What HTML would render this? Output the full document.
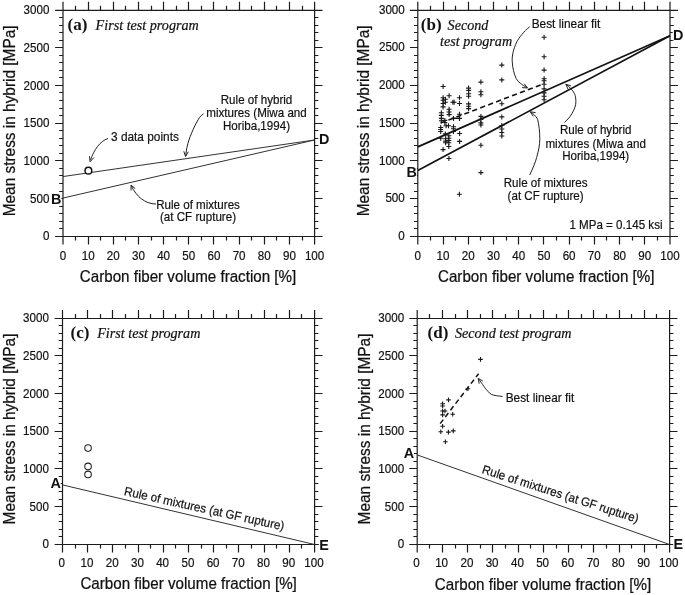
<!DOCTYPE html>
<html><head><meta charset="utf-8"><title>Figure</title>
<style>
html,body{margin:0;padding:0;background:#fff}
svg{display:block}
text{font-family:"Liberation Sans", Arial, sans-serif;fill:#111}
.tk{font-size:12.5px;stroke:#111;stroke-width:0.2px}
.ax{font-size:16.9px;stroke:#111;stroke-width:0.25px}
.axx{font-size:16.7px;stroke:#111;stroke-width:0.25px}
.an{font-size:12.4px;stroke:#111;stroke-width:0.2px}
.an2{font-size:12.9px;stroke:#111;stroke-width:0.2px}
.bd{font-size:14.4px;font-weight:bold;fill:#111}
.lbl{font-family:"Liberation Serif", "Times New Roman", serif;font-weight:bold;font-size:17.0px;fill:#111}
.it{font-family:"Liberation Serif", "Times New Roman", serif;font-style:italic;font-size:14.15px;fill:#111;stroke:#111;stroke-width:0.2px}
</style></head><body>
<svg width="685" height="595" viewBox="0 0 685 595">
<rect width="685" height="595" fill="#fff"/>
<path d="M55.1 10.3H322.5M55.1 236.5H322.5M63.0 1.8000000000000007V244.5M314.6 1.8000000000000007V244.5M75.50 10.3v-4.5M75.50 236.5v4M88.50 10.3v-8.5M88.50 236.5v8M100.50 10.3v-4.5M100.50 236.5v4M113.50 10.3v-8.5M113.50 236.5v8M125.50 10.3v-4.5M125.50 236.5v4M138.50 10.3v-8.5M138.50 236.5v8M151.50 10.3v-4.5M151.50 236.5v4M163.50 10.3v-8.5M163.50 236.5v8M176.50 10.3v-4.5M176.50 236.5v4M188.50 10.3v-8.5M188.50 236.5v8M201.50 10.3v-4.5M201.50 236.5v4M213.50 10.3v-8.5M213.50 236.5v8M226.50 10.3v-4.5M226.50 236.5v4M239.50 10.3v-8.5M239.50 236.5v8M251.50 10.3v-4.5M251.50 236.5v4M264.50 10.3v-8.5M264.50 236.5v8M276.50 10.3v-4.5M276.50 236.5v4M289.50 10.3v-8.5M289.50 236.5v8M302.50 10.3v-4.5M302.50 236.5v4M63.0 228.50h-3.8M314.6 228.50h3.8M63.0 221.50h-3.8M314.6 221.50h3.8M63.0 213.50h-3.8M314.6 213.50h3.8M63.0 206.50h-3.8M314.6 206.50h3.8M63.0 198.50h-7.9M314.6 198.50h7.9M63.0 191.50h-3.8M314.6 191.50h3.8M63.0 183.50h-3.8M314.6 183.50h3.8M63.0 175.50h-3.8M314.6 175.50h3.8M63.0 168.50h-3.8M314.6 168.50h3.8M63.0 160.50h-7.9M314.6 160.50h7.9M63.0 153.50h-3.8M314.6 153.50h3.8M63.0 145.50h-3.8M314.6 145.50h3.8M63.0 138.50h-3.8M314.6 138.50h3.8M63.0 130.50h-3.8M314.6 130.50h3.8M63.0 123.50h-7.9M314.6 123.50h7.9M63.0 115.50h-3.8M314.6 115.50h3.8M63.0 108.50h-3.8M314.6 108.50h3.8M63.0 100.50h-3.8M314.6 100.50h3.8M63.0 92.50h-3.8M314.6 92.50h3.8M63.0 85.50h-7.9M314.6 85.50h7.9M63.0 77.50h-3.8M314.6 77.50h3.8M63.0 70.50h-3.8M314.6 70.50h3.8M63.0 62.50h-3.8M314.6 62.50h3.8M63.0 55.50h-3.8M314.6 55.50h3.8M63.0 47.50h-7.9M314.6 47.50h7.9M63.0 40.50h-3.8M314.6 40.50h3.8M63.0 32.50h-3.8M314.6 32.50h3.8M63.0 25.50h-3.8M314.6 25.50h3.8M63.0 17.50h-3.8M314.6 17.50h3.8" stroke="#1c1c1c" stroke-width="1.2" fill="none"/>
<text transform="translate(63.0 260.2) scale(0.93 1)" class="tk" text-anchor="middle">0</text>
<text transform="translate(88.2 260.2) scale(0.93 1)" class="tk" text-anchor="middle">10</text>
<text transform="translate(113.3 260.2) scale(0.93 1)" class="tk" text-anchor="middle">20</text>
<text transform="translate(138.5 260.2) scale(0.93 1)" class="tk" text-anchor="middle">30</text>
<text transform="translate(163.6 260.2) scale(0.93 1)" class="tk" text-anchor="middle">40</text>
<text transform="translate(188.8 260.2) scale(0.93 1)" class="tk" text-anchor="middle">50</text>
<text transform="translate(214.0 260.2) scale(0.93 1)" class="tk" text-anchor="middle">60</text>
<text transform="translate(239.1 260.2) scale(0.93 1)" class="tk" text-anchor="middle">70</text>
<text transform="translate(264.3 260.2) scale(0.93 1)" class="tk" text-anchor="middle">80</text>
<text transform="translate(289.4 260.2) scale(0.93 1)" class="tk" text-anchor="middle">90</text>
<text transform="translate(314.6 260.2) scale(0.93 1)" class="tk" text-anchor="middle">100</text>
<text transform="translate(49.4 240.3) scale(0.93 1)" class="tk" text-anchor="end">0</text>
<text transform="translate(49.4 202.6) scale(0.93 1)" class="tk" text-anchor="end">500</text>
<text transform="translate(49.4 164.9) scale(0.93 1)" class="tk" text-anchor="end">1000</text>
<text transform="translate(49.4 127.2) scale(0.93 1)" class="tk" text-anchor="end">1500</text>
<text transform="translate(49.4 89.5) scale(0.93 1)" class="tk" text-anchor="end">2000</text>
<text transform="translate(49.4 51.8) scale(0.93 1)" class="tk" text-anchor="end">2500</text>
<text transform="translate(49.4 14.1) scale(0.93 1)" class="tk" text-anchor="end">3000</text>
<text transform="translate(188.0 281.8) scale(0.908 1)" class="axx" text-anchor="middle">Carbon fiber volume fraction [%]</text>
<text transform="translate(15.0 120.9) rotate(-90) scale(0.912 1)" class="ax" text-anchor="middle">Mean stress in hybrid [MPa]</text>
<path d="M409.90000000000003 10.3H677.9M409.90000000000003 236.5H677.9M417.8 1.8000000000000007V244.5M670.0 1.8000000000000007V244.5M430.50 10.3v-4.5M430.50 236.5v4M443.50 10.3v-8.5M443.50 236.5v8M455.50 10.3v-4.5M455.50 236.5v4M468.50 10.3v-8.5M468.50 236.5v8M480.50 10.3v-4.5M480.50 236.5v4M493.50 10.3v-8.5M493.50 236.5v8M506.50 10.3v-4.5M506.50 236.5v4M518.50 10.3v-8.5M518.50 236.5v8M531.50 10.3v-4.5M531.50 236.5v4M543.50 10.3v-8.5M543.50 236.5v8M556.50 10.3v-4.5M556.50 236.5v4M569.50 10.3v-8.5M569.50 236.5v8M581.50 10.3v-4.5M581.50 236.5v4M594.50 10.3v-8.5M594.50 236.5v8M606.50 10.3v-4.5M606.50 236.5v4M619.50 10.3v-8.5M619.50 236.5v8M632.50 10.3v-4.5M632.50 236.5v4M644.50 10.3v-8.5M644.50 236.5v8M657.50 10.3v-4.5M657.50 236.5v4M417.8 228.50h-3.8M670.0 228.50h3.8M417.8 221.50h-3.8M670.0 221.50h3.8M417.8 213.50h-3.8M670.0 213.50h3.8M417.8 206.50h-3.8M670.0 206.50h3.8M417.8 198.50h-7.9M670.0 198.50h7.9M417.8 191.50h-3.8M670.0 191.50h3.8M417.8 183.50h-3.8M670.0 183.50h3.8M417.8 175.50h-3.8M670.0 175.50h3.8M417.8 168.50h-3.8M670.0 168.50h3.8M417.8 160.50h-7.9M670.0 160.50h7.9M417.8 153.50h-3.8M670.0 153.50h3.8M417.8 145.50h-3.8M670.0 145.50h3.8M417.8 138.50h-3.8M670.0 138.50h3.8M417.8 130.50h-3.8M670.0 130.50h3.8M417.8 123.50h-7.9M670.0 123.50h7.9M417.8 115.50h-3.8M670.0 115.50h3.8M417.8 108.50h-3.8M670.0 108.50h3.8M417.8 100.50h-3.8M670.0 100.50h3.8M417.8 92.50h-3.8M670.0 92.50h3.8M417.8 85.50h-7.9M670.0 85.50h7.9M417.8 77.50h-3.8M670.0 77.50h3.8M417.8 70.50h-3.8M670.0 70.50h3.8M417.8 62.50h-3.8M670.0 62.50h3.8M417.8 55.50h-3.8M670.0 55.50h3.8M417.8 47.50h-7.9M670.0 47.50h7.9M417.8 40.50h-3.8M670.0 40.50h3.8M417.8 32.50h-3.8M670.0 32.50h3.8M417.8 25.50h-3.8M670.0 25.50h3.8M417.8 17.50h-3.8M670.0 17.50h3.8" stroke="#1c1c1c" stroke-width="1.2" fill="none"/>
<text transform="translate(417.8 260.2) scale(0.93 1)" class="tk" text-anchor="middle">0</text>
<text transform="translate(443.0 260.2) scale(0.93 1)" class="tk" text-anchor="middle">10</text>
<text transform="translate(468.2 260.2) scale(0.93 1)" class="tk" text-anchor="middle">20</text>
<text transform="translate(493.5 260.2) scale(0.93 1)" class="tk" text-anchor="middle">30</text>
<text transform="translate(518.7 260.2) scale(0.93 1)" class="tk" text-anchor="middle">40</text>
<text transform="translate(543.9 260.2) scale(0.93 1)" class="tk" text-anchor="middle">50</text>
<text transform="translate(569.1 260.2) scale(0.93 1)" class="tk" text-anchor="middle">60</text>
<text transform="translate(594.3 260.2) scale(0.93 1)" class="tk" text-anchor="middle">70</text>
<text transform="translate(619.6 260.2) scale(0.93 1)" class="tk" text-anchor="middle">80</text>
<text transform="translate(644.8 260.2) scale(0.93 1)" class="tk" text-anchor="middle">90</text>
<text transform="translate(670.0 260.2) scale(0.93 1)" class="tk" text-anchor="middle">100</text>
<text transform="translate(404.8 239.9) scale(0.93 1)" class="tk" text-anchor="end">0</text>
<text transform="translate(404.8 202.2) scale(0.93 1)" class="tk" text-anchor="end">500</text>
<text transform="translate(404.8 164.5) scale(0.93 1)" class="tk" text-anchor="end">1000</text>
<text transform="translate(404.8 126.8) scale(0.93 1)" class="tk" text-anchor="end">1500</text>
<text transform="translate(404.8 89.1) scale(0.93 1)" class="tk" text-anchor="end">2000</text>
<text transform="translate(404.8 51.4) scale(0.93 1)" class="tk" text-anchor="end">2500</text>
<text transform="translate(404.8 13.7) scale(0.93 1)" class="tk" text-anchor="end">3000</text>
<text transform="translate(546.2 281.6) scale(0.908 1)" class="axx" text-anchor="middle">Carbon fiber volume fraction [%]</text>
<text transform="translate(368.8 120.9) rotate(-90) scale(0.912 1)" class="ax" text-anchor="middle">Mean stress in hybrid [MPa]</text>
<path d="M54.6 318.5H322.5M54.6 544.5H322.5M62.5 310.0V552.5M314.6 310.0V552.5M75.50 318.5v-4.5M75.50 544.5v4M87.50 318.5v-8.5M87.50 544.5v8M100.50 318.5v-4.5M100.50 544.5v4M112.50 318.5v-8.5M112.50 544.5v8M125.50 318.5v-4.5M125.50 544.5v4M138.50 318.5v-8.5M138.50 544.5v8M150.50 318.5v-4.5M150.50 544.5v4M163.50 318.5v-8.5M163.50 544.5v8M175.50 318.5v-4.5M175.50 544.5v4M188.50 318.5v-8.5M188.50 544.5v8M201.50 318.5v-4.5M201.50 544.5v4M213.50 318.5v-8.5M213.50 544.5v8M226.50 318.5v-4.5M226.50 544.5v4M238.50 318.5v-8.5M238.50 544.5v8M251.50 318.5v-4.5M251.50 544.5v4M264.50 318.5v-8.5M264.50 544.5v8M276.50 318.5v-4.5M276.50 544.5v4M289.50 318.5v-8.5M289.50 544.5v8M301.50 318.5v-4.5M301.50 544.5v4M62.5 536.50h-3.8M314.6 536.50h3.8M62.5 529.50h-3.8M314.6 529.50h3.8M62.5 521.50h-3.8M314.6 521.50h3.8M62.5 514.50h-3.8M314.6 514.50h3.8M62.5 506.50h-7.9M314.6 506.50h7.9M62.5 499.50h-3.8M314.6 499.50h3.8M62.5 491.50h-3.8M314.6 491.50h3.8M62.5 483.50h-3.8M314.6 483.50h3.8M62.5 476.50h-3.8M314.6 476.50h3.8M62.5 468.50h-7.9M314.6 468.50h7.9M62.5 461.50h-3.8M314.6 461.50h3.8M62.5 453.50h-3.8M314.6 453.50h3.8M62.5 446.50h-3.8M314.6 446.50h3.8M62.5 438.50h-3.8M314.6 438.50h3.8M62.5 431.50h-7.9M314.6 431.50h7.9M62.5 423.50h-3.8M314.6 423.50h3.8M62.5 416.50h-3.8M314.6 416.50h3.8M62.5 408.50h-3.8M314.6 408.50h3.8M62.5 401.50h-3.8M314.6 401.50h3.8M62.5 393.50h-7.9M314.6 393.50h7.9M62.5 386.50h-3.8M314.6 386.50h3.8M62.5 378.50h-3.8M314.6 378.50h3.8M62.5 370.50h-3.8M314.6 370.50h3.8M62.5 363.50h-3.8M314.6 363.50h3.8M62.5 355.50h-7.9M314.6 355.50h7.9M62.5 348.50h-3.8M314.6 348.50h3.8M62.5 340.50h-3.8M314.6 340.50h3.8M62.5 333.50h-3.8M314.6 333.50h3.8M62.5 325.50h-3.8M314.6 325.50h3.8" stroke="#1c1c1c" stroke-width="1.2" fill="none"/>
<text transform="translate(61.8 566.9) scale(0.93 1)" class="tk" text-anchor="middle">0</text>
<text transform="translate(87.0 566.9) scale(0.93 1)" class="tk" text-anchor="middle">10</text>
<text transform="translate(112.2 566.9) scale(0.93 1)" class="tk" text-anchor="middle">20</text>
<text transform="translate(137.4 566.9) scale(0.93 1)" class="tk" text-anchor="middle">30</text>
<text transform="translate(162.6 566.9) scale(0.93 1)" class="tk" text-anchor="middle">40</text>
<text transform="translate(187.9 566.9) scale(0.93 1)" class="tk" text-anchor="middle">50</text>
<text transform="translate(213.1 566.9) scale(0.93 1)" class="tk" text-anchor="middle">60</text>
<text transform="translate(238.3 566.9) scale(0.93 1)" class="tk" text-anchor="middle">70</text>
<text transform="translate(263.5 566.9) scale(0.93 1)" class="tk" text-anchor="middle">80</text>
<text transform="translate(288.7 566.9) scale(0.93 1)" class="tk" text-anchor="middle">90</text>
<text transform="translate(313.9 566.9) scale(0.93 1)" class="tk" text-anchor="middle">100</text>
<text transform="translate(48.9 548.3) scale(0.93 1)" class="tk" text-anchor="end">0</text>
<text transform="translate(48.9 510.6) scale(0.93 1)" class="tk" text-anchor="end">500</text>
<text transform="translate(48.9 473.0) scale(0.93 1)" class="tk" text-anchor="end">1000</text>
<text transform="translate(48.9 435.3) scale(0.93 1)" class="tk" text-anchor="end">1500</text>
<text transform="translate(48.9 397.6) scale(0.93 1)" class="tk" text-anchor="end">2000</text>
<text transform="translate(48.9 360.0) scale(0.93 1)" class="tk" text-anchor="end">2500</text>
<text transform="translate(48.9 322.3) scale(0.93 1)" class="tk" text-anchor="end">3000</text>
<text transform="translate(188.6 589.3) scale(0.908 1)" class="axx" text-anchor="middle">Carbon fiber volume fraction [%]</text>
<text transform="translate(14.5 429.0) rotate(-90) scale(0.912 1)" class="ax" text-anchor="middle">Mean stress in hybrid [MPa]</text>
<path d="M409.3 318.5H677.5M409.3 544.5H677.5M417.2 310.0V552.5M669.6 310.0V552.5M429.50 318.5v-4.5M429.50 544.5v4M442.50 318.5v-8.5M442.50 544.5v8M455.50 318.5v-4.5M455.50 544.5v4M467.50 318.5v-8.5M467.50 544.5v8M480.50 318.5v-4.5M480.50 544.5v4M492.50 318.5v-8.5M492.50 544.5v8M505.50 318.5v-4.5M505.50 544.5v4M518.50 318.5v-8.5M518.50 544.5v8M530.50 318.5v-4.5M530.50 544.5v4M543.50 318.5v-8.5M543.50 544.5v8M556.50 318.5v-4.5M556.50 544.5v4M568.50 318.5v-8.5M568.50 544.5v8M581.50 318.5v-4.5M581.50 544.5v4M593.50 318.5v-8.5M593.50 544.5v8M606.50 318.5v-4.5M606.50 544.5v4M619.50 318.5v-8.5M619.50 544.5v8M631.50 318.5v-4.5M631.50 544.5v4M644.50 318.5v-8.5M644.50 544.5v8M656.50 318.5v-4.5M656.50 544.5v4M417.2 536.50h-3.8M669.6 536.50h3.8M417.2 529.50h-3.8M669.6 529.50h3.8M417.2 521.50h-3.8M669.6 521.50h3.8M417.2 514.50h-3.8M669.6 514.50h3.8M417.2 506.50h-7.9M669.6 506.50h7.9M417.2 499.50h-3.8M669.6 499.50h3.8M417.2 491.50h-3.8M669.6 491.50h3.8M417.2 483.50h-3.8M669.6 483.50h3.8M417.2 476.50h-3.8M669.6 476.50h3.8M417.2 468.50h-7.9M669.6 468.50h7.9M417.2 461.50h-3.8M669.6 461.50h3.8M417.2 453.50h-3.8M669.6 453.50h3.8M417.2 446.50h-3.8M669.6 446.50h3.8M417.2 438.50h-3.8M669.6 438.50h3.8M417.2 431.50h-7.9M669.6 431.50h7.9M417.2 423.50h-3.8M669.6 423.50h3.8M417.2 416.50h-3.8M669.6 416.50h3.8M417.2 408.50h-3.8M669.6 408.50h3.8M417.2 401.50h-3.8M669.6 401.50h3.8M417.2 393.50h-7.9M669.6 393.50h7.9M417.2 386.50h-3.8M669.6 386.50h3.8M417.2 378.50h-3.8M669.6 378.50h3.8M417.2 370.50h-3.8M669.6 370.50h3.8M417.2 363.50h-3.8M669.6 363.50h3.8M417.2 355.50h-7.9M669.6 355.50h7.9M417.2 348.50h-3.8M669.6 348.50h3.8M417.2 340.50h-3.8M669.6 340.50h3.8M417.2 333.50h-3.8M669.6 333.50h3.8M417.2 325.50h-3.8M669.6 325.50h3.8" stroke="#1c1c1c" stroke-width="1.2" fill="none"/>
<text transform="translate(416.4 567.0) scale(0.93 1)" class="tk" text-anchor="middle">0</text>
<text transform="translate(441.6 567.0) scale(0.93 1)" class="tk" text-anchor="middle">10</text>
<text transform="translate(466.9 567.0) scale(0.93 1)" class="tk" text-anchor="middle">20</text>
<text transform="translate(492.1 567.0) scale(0.93 1)" class="tk" text-anchor="middle">30</text>
<text transform="translate(517.4 567.0) scale(0.93 1)" class="tk" text-anchor="middle">40</text>
<text transform="translate(542.6 567.0) scale(0.93 1)" class="tk" text-anchor="middle">50</text>
<text transform="translate(567.8 567.0) scale(0.93 1)" class="tk" text-anchor="middle">60</text>
<text transform="translate(593.1 567.0) scale(0.93 1)" class="tk" text-anchor="middle">70</text>
<text transform="translate(618.3 567.0) scale(0.93 1)" class="tk" text-anchor="middle">80</text>
<text transform="translate(643.6 567.0) scale(0.93 1)" class="tk" text-anchor="middle">90</text>
<text transform="translate(668.8 567.0) scale(0.93 1)" class="tk" text-anchor="middle">100</text>
<text transform="translate(404.2 548.3) scale(0.93 1)" class="tk" text-anchor="end">0</text>
<text transform="translate(404.2 510.6) scale(0.93 1)" class="tk" text-anchor="end">500</text>
<text transform="translate(404.2 473.0) scale(0.93 1)" class="tk" text-anchor="end">1000</text>
<text transform="translate(404.2 435.3) scale(0.93 1)" class="tk" text-anchor="end">1500</text>
<text transform="translate(404.2 397.6) scale(0.93 1)" class="tk" text-anchor="end">2000</text>
<text transform="translate(404.2 360.0) scale(0.93 1)" class="tk" text-anchor="end">2500</text>
<text transform="translate(404.2 322.3) scale(0.93 1)" class="tk" text-anchor="end">3000</text>
<text transform="translate(543.0 589.7) scale(0.908 1)" class="axx" text-anchor="middle">Carbon fiber volume fraction [%]</text>
<text transform="translate(370.0 429.0) rotate(-90) scale(0.912 1)" class="ax" text-anchor="middle">Mean stress in hybrid [MPa]</text>
<line x1="63.00" y1="176.56" x2="314.60" y2="139.99" stroke="#333" stroke-width="1.0"/>
<line x1="63.00" y1="198.05" x2="314.60" y2="139.99" stroke="#333" stroke-width="1.0"/>
<circle cx="88.4" cy="170.7" r="3.35" stroke="#111" stroke-width="1.5" fill="#fff"/>
<text x="67.5" y="30.2" class="lbl" text-anchor="start">(a)</text>
<text x="95.6" y="30.2" class="it" text-anchor="start">First test program</text>
<text transform="translate(111 140.7) scale(0.92 1)" class="an2" text-anchor="start">3 data points</text>
<text transform="translate(256.5 104.4) scale(0.935 1)" class="an" text-anchor="middle">Rule of hybrid</text>
<text transform="translate(256.5 117.4) scale(0.935 1)" class="an" text-anchor="middle">mixtures (Miwa and</text>
<text transform="translate(256.5 129.8) scale(0.935 1)" class="an" text-anchor="middle">Horiba,1994)</text>
<text transform="translate(198 208.5) scale(0.935 1)" class="an" text-anchor="middle">Rule of mixtures</text>
<text transform="translate(198 221.3) scale(0.935 1)" class="an" text-anchor="middle">(at CF rupture)</text>
<rect x="50.7" y="192.9" width="10.6" height="11.8" fill="#fff"/>
<text x="51" y="203.7" class="bd" text-anchor="start">B</text>
<rect x="318.7" y="132.8" width="10.6" height="11.8" fill="#fff"/>
<text x="319" y="143.6" class="bd" text-anchor="start">D</text>
<path d="M108 138.5C100 141 94 150 90.5 160" stroke="#222" stroke-width="1.0" fill="none"/>
<path d="M89.5 156.2L90.1 161.7L93.8 157.6" stroke="#222" stroke-width="1.0" fill="none"/>
<path d="M203.5 113.8C200 116 198.5 119 196.8 122.1C194 127 192 132 190.2 136.6C188.5 141 187 146 186.3 151L185.7 156" stroke="#222" stroke-width="1.0" fill="none"/>
<path d="M183.8 151.3L185.6 156.5L188.3 151.7" stroke="#222" stroke-width="1.0" fill="none"/>
<path d="M156 204C145 204 136 196 131.5 186" stroke="#222" stroke-width="1.0" fill="none"/>
<path d="M135.2 188.6L131.0 185.0L131.1 190.5" stroke="#222" stroke-width="1.0" fill="none"/>
<line x1="417.80" y1="146.85" x2="670.00" y2="35.79" stroke="#111" stroke-width="1.7"/>
<line x1="417.80" y1="170.53" x2="670.00" y2="35.79" stroke="#111" stroke-width="1.7"/>
<line x1="440.5" y1="123.1" x2="543.8" y2="83.7" stroke="#111" stroke-width="1.6" stroke-dasharray="5.2 3.3"/>
<path d="M440.6 86.5h5.0M443.1 84.0v5.0" stroke="#1a1a1a" stroke-width="1.1" fill="none"/>
<path d="M446.6 95.7h5.0M449.1 93.2v5.0" stroke="#1a1a1a" stroke-width="1.1" fill="none"/>
<path d="M440.6 97.8h5.0M443.1 95.3v5.0" stroke="#1a1a1a" stroke-width="1.1" fill="none"/>
<path d="M442.9 99.2h5.0M445.4 96.7v5.0" stroke="#1a1a1a" stroke-width="1.1" fill="none"/>
<path d="M440.6 100.2h5.0M443.1 97.7v5.0" stroke="#1a1a1a" stroke-width="1.1" fill="none"/>
<path d="M442.9 102.2h5.0M445.4 99.7v5.0" stroke="#1a1a1a" stroke-width="1.1" fill="none"/>
<path d="M440.6 103.5h5.0M443.1 101.0v5.0" stroke="#1a1a1a" stroke-width="1.1" fill="none"/>
<path d="M450.4 102.2h5.0M452.9 99.7v5.0" stroke="#1a1a1a" stroke-width="1.1" fill="none"/>
<path d="M451.6 102.2h5.0M454.1 99.7v5.0" stroke="#1a1a1a" stroke-width="1.1" fill="none"/>
<path d="M457.0 97.8h5.0M459.5 95.3v5.0" stroke="#1a1a1a" stroke-width="1.1" fill="none"/>
<path d="M457.0 103.5h5.0M459.5 101.0v5.0" stroke="#1a1a1a" stroke-width="1.1" fill="none"/>
<path d="M466.1 88.1h5.0M468.6 85.6v5.0" stroke="#1a1a1a" stroke-width="1.1" fill="none"/>
<path d="M466.1 90.4h5.0M468.6 87.9v5.0" stroke="#1a1a1a" stroke-width="1.1" fill="none"/>
<path d="M466.1 93.8h5.0M468.6 91.3v5.0" stroke="#1a1a1a" stroke-width="1.1" fill="none"/>
<path d="M466.1 96.2h5.0M468.6 93.7v5.0" stroke="#1a1a1a" stroke-width="1.1" fill="none"/>
<path d="M466.1 103.9h5.0M468.6 101.4v5.0" stroke="#1a1a1a" stroke-width="1.1" fill="none"/>
<path d="M466.1 106.2h5.0M468.6 103.7v5.0" stroke="#1a1a1a" stroke-width="1.1" fill="none"/>
<path d="M466.1 108.6h5.0M468.6 106.1v5.0" stroke="#1a1a1a" stroke-width="1.1" fill="none"/>
<path d="M440.6 106.9h5.0M443.1 104.4v5.0" stroke="#1a1a1a" stroke-width="1.1" fill="none"/>
<path d="M446.6 109.3h5.0M449.1 106.8v5.0" stroke="#1a1a1a" stroke-width="1.1" fill="none"/>
<path d="M446.6 112.0h5.0M449.1 109.5v5.0" stroke="#1a1a1a" stroke-width="1.1" fill="none"/>
<path d="M446.6 114.6h5.0M449.1 112.1v5.0" stroke="#1a1a1a" stroke-width="1.1" fill="none"/>
<path d="M457.0 114.3h5.0M459.5 111.8v5.0" stroke="#1a1a1a" stroke-width="1.1" fill="none"/>
<path d="M457.0 118.4h5.0M459.5 115.9v5.0" stroke="#1a1a1a" stroke-width="1.1" fill="none"/>
<path d="M451.0 118.4h5.0M453.5 115.9v5.0" stroke="#1a1a1a" stroke-width="1.1" fill="none"/>
<path d="M438.9 112.7h5.0M441.4 110.2v5.0" stroke="#1a1a1a" stroke-width="1.1" fill="none"/>
<path d="M438.9 115.4h5.0M441.4 112.9v5.0" stroke="#1a1a1a" stroke-width="1.1" fill="none"/>
<path d="M438.9 118.4h5.0M441.4 115.9v5.0" stroke="#1a1a1a" stroke-width="1.1" fill="none"/>
<path d="M438.9 120.8h5.0M441.4 118.3v5.0" stroke="#1a1a1a" stroke-width="1.1" fill="none"/>
<path d="M442.3 120.4h5.0M444.8 117.9v5.0" stroke="#1a1a1a" stroke-width="1.1" fill="none"/>
<path d="M442.3 122.5h5.0M444.8 120.0v5.0" stroke="#1a1a1a" stroke-width="1.1" fill="none"/>
<path d="M443.6 125.8h5.0M446.1 123.3v5.0" stroke="#1a1a1a" stroke-width="1.1" fill="none"/>
<path d="M446.0 125.8h5.0M448.5 123.3v5.0" stroke="#1a1a1a" stroke-width="1.1" fill="none"/>
<path d="M438.2 127.5h5.0M440.7 125.0v5.0" stroke="#1a1a1a" stroke-width="1.1" fill="none"/>
<path d="M438.2 129.5h5.0M440.7 127.0v5.0" stroke="#1a1a1a" stroke-width="1.1" fill="none"/>
<path d="M438.2 131.5h5.0M440.7 129.0v5.0" stroke="#1a1a1a" stroke-width="1.1" fill="none"/>
<path d="M451.0 126.8h5.0M453.5 124.3v5.0" stroke="#1a1a1a" stroke-width="1.1" fill="none"/>
<path d="M451.0 128.8h5.0M453.5 126.3v5.0" stroke="#1a1a1a" stroke-width="1.1" fill="none"/>
<path d="M451.0 131.5h5.0M453.5 129.0v5.0" stroke="#1a1a1a" stroke-width="1.1" fill="none"/>
<path d="M457.1 133.5h5.0M459.6 131.0v5.0" stroke="#1a1a1a" stroke-width="1.1" fill="none"/>
<path d="M457.1 141.4h5.0M459.6 138.9v5.0" stroke="#1a1a1a" stroke-width="1.1" fill="none"/>
<path d="M442.9 133.9h5.0M445.4 131.4v5.0" stroke="#1a1a1a" stroke-width="1.1" fill="none"/>
<path d="M446.3 135.8h5.0M448.8 133.3v5.0" stroke="#1a1a1a" stroke-width="1.1" fill="none"/>
<path d="M446.3 138.2h5.0M448.8 135.7v5.0" stroke="#1a1a1a" stroke-width="1.1" fill="none"/>
<path d="M446.3 140.5h5.0M448.8 138.0v5.0" stroke="#1a1a1a" stroke-width="1.1" fill="none"/>
<path d="M446.3 142.8h5.0M448.8 140.3v5.0" stroke="#1a1a1a" stroke-width="1.1" fill="none"/>
<path d="M446.3 146.5h5.0M448.8 144.0v5.0" stroke="#1a1a1a" stroke-width="1.1" fill="none"/>
<path d="M443.1 138.8h5.0M445.6 136.3v5.0" stroke="#1a1a1a" stroke-width="1.1" fill="none"/>
<path d="M443.1 141.1h5.0M445.6 138.6v5.0" stroke="#1a1a1a" stroke-width="1.1" fill="none"/>
<path d="M443.1 142.8h5.0M445.6 140.3v5.0" stroke="#1a1a1a" stroke-width="1.1" fill="none"/>
<path d="M438.2 138.3h5.0M440.7 135.8v5.0" stroke="#1a1a1a" stroke-width="1.1" fill="none"/>
<path d="M440.6 149.6h5.0M443.1 147.1v5.0" stroke="#1a1a1a" stroke-width="1.1" fill="none"/>
<path d="M446.4 158.5h5.0M448.9 156.0v5.0" stroke="#1a1a1a" stroke-width="1.1" fill="none"/>
<path d="M478.4 145.3h5.0M480.9 142.8v5.0" stroke="#1a1a1a" stroke-width="1.1" fill="none"/>
<path d="M478.4 172.6h5.0M480.9 170.1v5.0" stroke="#1a1a1a" stroke-width="1.1" fill="none"/>
<path d="M456.9 194.3h5.0M459.4 191.8v5.0" stroke="#1a1a1a" stroke-width="1.1" fill="none"/>
<path d="M478.4 82.1h5.0M480.9 79.6v5.0" stroke="#1a1a1a" stroke-width="1.1" fill="none"/>
<path d="M478.4 91.7h5.0M480.9 89.2v5.0" stroke="#1a1a1a" stroke-width="1.1" fill="none"/>
<path d="M478.4 94.7h5.0M480.9 92.2v5.0" stroke="#1a1a1a" stroke-width="1.1" fill="none"/>
<path d="M478.4 116.4h5.0M480.9 113.9v5.0" stroke="#1a1a1a" stroke-width="1.1" fill="none"/>
<path d="M478.4 119.4h5.0M480.9 116.9v5.0" stroke="#1a1a1a" stroke-width="1.1" fill="none"/>
<path d="M478.4 122.9h5.0M480.9 120.4v5.0" stroke="#1a1a1a" stroke-width="1.1" fill="none"/>
<path d="M478.4 125.0h5.0M480.9 122.5v5.0" stroke="#1a1a1a" stroke-width="1.1" fill="none"/>
<path d="M499.3 65.1h5.0M501.8 62.6v5.0" stroke="#1a1a1a" stroke-width="1.1" fill="none"/>
<path d="M499.3 79.9h5.0M501.8 77.4v5.0" stroke="#1a1a1a" stroke-width="1.1" fill="none"/>
<path d="M499.3 103.8h5.0M501.8 101.3v5.0" stroke="#1a1a1a" stroke-width="1.1" fill="none"/>
<path d="M499.3 116.9h5.0M501.8 114.4v5.0" stroke="#1a1a1a" stroke-width="1.1" fill="none"/>
<path d="M499.3 125.5h5.0M501.8 123.0v5.0" stroke="#1a1a1a" stroke-width="1.1" fill="none"/>
<path d="M499.3 129.0h5.0M501.8 126.5v5.0" stroke="#1a1a1a" stroke-width="1.1" fill="none"/>
<path d="M499.3 132.5h5.0M501.8 130.0v5.0" stroke="#1a1a1a" stroke-width="1.1" fill="none"/>
<path d="M499.3 136.0h5.0M501.8 133.5v5.0" stroke="#1a1a1a" stroke-width="1.1" fill="none"/>
<path d="M541.6 37.3h5.0M544.1 34.8v5.0" stroke="#1a1a1a" stroke-width="1.1" fill="none"/>
<path d="M541.6 56.7h5.0M544.1 54.2v5.0" stroke="#1a1a1a" stroke-width="1.1" fill="none"/>
<path d="M541.6 70.1h5.0M544.1 67.6v5.0" stroke="#1a1a1a" stroke-width="1.1" fill="none"/>
<path d="M541.6 78.8h5.0M544.1 76.3v5.0" stroke="#1a1a1a" stroke-width="1.1" fill="none"/>
<path d="M541.6 80.8h5.0M544.1 78.3v5.0" stroke="#1a1a1a" stroke-width="1.1" fill="none"/>
<path d="M541.6 84.2h5.0M544.1 81.7v5.0" stroke="#1a1a1a" stroke-width="1.1" fill="none"/>
<path d="M541.6 88.9h5.0M544.1 86.4v5.0" stroke="#1a1a1a" stroke-width="1.1" fill="none"/>
<path d="M541.6 92.9h5.0M544.1 90.4v5.0" stroke="#1a1a1a" stroke-width="1.1" fill="none"/>
<path d="M541.6 96.3h5.0M544.1 93.8v5.0" stroke="#1a1a1a" stroke-width="1.1" fill="none"/>
<path d="M541.6 99.7h5.0M544.1 97.2v5.0" stroke="#1a1a1a" stroke-width="1.1" fill="none"/>
<line x1="452" y1="118.4" x2="460" y2="118.4" stroke="#111" stroke-width="1.3"/>
<text x="420.8" y="30" class="lbl" text-anchor="start">(b)</text>
<text x="447.6" y="30" class="it" text-anchor="start">Second</text>
<text x="440" y="45.8" class="it" text-anchor="start">test program</text>
<text transform="translate(531.7 28.2) scale(0.92 1)" class="an2" text-anchor="start">Best linear fit</text>
<text transform="translate(595.7 134.3) scale(0.935 1)" class="an" text-anchor="middle">Rule of hybrid</text>
<text transform="translate(595.7 147.5) scale(0.935 1)" class="an" text-anchor="middle">mixtures (Miwa and</text>
<text transform="translate(595.7 160.3) scale(0.935 1)" class="an" text-anchor="middle">Horiba,1994)</text>
<text transform="translate(545.6 187) scale(0.935 1)" class="an" text-anchor="middle">Rule of mixtures</text>
<text transform="translate(545.6 199.5) scale(0.935 1)" class="an" text-anchor="middle">(at CF rupture)</text>
<text transform="translate(569.4 228.7) scale(0.935 1)" class="an" text-anchor="start">1 MPa = 0.145 ksi</text>
<rect x="406.3" y="165.9" width="10.6" height="11.8" fill="#fff"/>
<text x="406.6" y="176.7" class="bd" text-anchor="start">B</text>
<rect x="672.7" y="28.7" width="10.6" height="11.8" fill="#fff"/>
<text x="673" y="39.5" class="bd" text-anchor="start">D</text>
<path d="M529.7 26.8C524 31 519 38 516.9 41.6C513 50 512 56 512.2 61.1C512.5 68 514 74 516.2 78.6C518 82 523 85.5 527 87.7" stroke="#222" stroke-width="1.0" fill="none"/>
<path d="M522.1 87.6L527.6 88.0L524.2 83.7" stroke="#222" stroke-width="1.0" fill="none"/>
<path d="M564.5 122.5C568 119 570 117 571.8 113.8C574 110 576 106 575.9 101.7C575.8 98 575.5 96 574.5 93.6C572.5 90 569 86.5 566.2 84.5" stroke="#222" stroke-width="1.0" fill="none"/>
<path d="M571.0 85.9L565.8 84.2L568.0 89.2" stroke="#222" stroke-width="1.0" fill="none"/>
<path d="M529.7 175C533 168 535.5 162 536.7 157.4C538.5 151 539.8 145 539.8 138.7C539.8 132 539 125 537.6 119.2C536 116 533 113.5 530.6 112.1" stroke="#222" stroke-width="1.0" fill="none"/>
<path d="M535.6 112.6L530.2 111.8L533.3 116.4" stroke="#222" stroke-width="1.0" fill="none"/>
<line x1="62.50" y1="484.91" x2="314.60" y2="544.50" stroke="#333" stroke-width="1.0"/>
<circle cx="88.05" cy="448.1" r="3.3" stroke="#222" stroke-width="1.05" fill="#fff"/>
<circle cx="88.05" cy="466.4" r="3.3" stroke="#222" stroke-width="1.05" fill="#fff"/>
<circle cx="88.05" cy="474.4" r="3.3" stroke="#222" stroke-width="1.05" fill="#fff"/>
<text x="70.5" y="337.6" class="lbl" text-anchor="start">(c)</text>
<text x="97.2" y="338" class="it" text-anchor="start">First test program</text>
<rect x="50.1" y="477.6" width="10.6" height="11.8" fill="#fff"/>
<text x="50.4" y="488.4" class="bd" text-anchor="start">A</text>
<rect x="318.9" y="539.0" width="10.6" height="11.8" fill="#fff"/>
<text x="319.2" y="549.8" class="bd" text-anchor="start">E</text>
<text transform="translate(123.5 495) rotate(12.5) scale(0.935 1)" class="an" text-anchor="start">Rule of mixtures (at GF rupture)</text>
<line x1="417.20" y1="454.93" x2="669.60" y2="544.50" stroke="#333" stroke-width="1.0"/>
<line x1="440.2" y1="423.6" x2="478.6" y2="373.7" stroke="#111" stroke-width="1.5" stroke-dasharray="5 3.4"/>
<path d="M478.2 359.4h4.6M480.5 357.1v4.6" stroke="#1a1a1a" stroke-width="1.1" fill="none"/>
<path d="M465.6 388.8h4.6M467.9 386.5v4.6" stroke="#1a1a1a" stroke-width="1.1" fill="none"/>
<path d="M446.2 399.9h4.6M448.5 397.6v4.6" stroke="#1a1a1a" stroke-width="1.1" fill="none"/>
<path d="M440.3 403.8h4.6M442.6 401.5v4.6" stroke="#1a1a1a" stroke-width="1.1" fill="none"/>
<path d="M440.3 406.0h4.6M442.6 403.7v4.6" stroke="#1a1a1a" stroke-width="1.1" fill="none"/>
<path d="M440.3 411.0h4.6M442.6 408.7v4.6" stroke="#1a1a1a" stroke-width="1.1" fill="none"/>
<path d="M442.7 411.0h4.6M445.0 408.7v4.6" stroke="#1a1a1a" stroke-width="1.1" fill="none"/>
<path d="M440.3 414.9h4.6M442.6 412.6v4.6" stroke="#1a1a1a" stroke-width="1.1" fill="none"/>
<path d="M450.4 414.3h4.6M452.7 412.0v4.6" stroke="#1a1a1a" stroke-width="1.1" fill="none"/>
<path d="M440.3 426.3h4.6M442.6 424.0v4.6" stroke="#1a1a1a" stroke-width="1.1" fill="none"/>
<path d="M438.5 431.8h4.6M440.8 429.5v4.6" stroke="#1a1a1a" stroke-width="1.1" fill="none"/>
<path d="M446.1 432.1h4.6M448.4 429.8v4.6" stroke="#1a1a1a" stroke-width="1.1" fill="none"/>
<path d="M451.0 430.9h4.6M453.3 428.6v4.6" stroke="#1a1a1a" stroke-width="1.1" fill="none"/>
<path d="M443.1 441.7h4.6M445.4 439.4v4.6" stroke="#1a1a1a" stroke-width="1.1" fill="none"/>
<text x="427.6" y="338" class="lbl" text-anchor="start">(d)</text>
<text x="455" y="338" class="it" text-anchor="start">Second test program</text>
<rect x="403.4" y="447.6" width="10.6" height="11.8" fill="#fff"/>
<text x="403.7" y="458.4" class="bd" text-anchor="start">A</text>
<rect x="673.2" y="537.7" width="10.6" height="11.8" fill="#fff"/>
<text x="673.5" y="548.5" class="bd" text-anchor="start">E</text>
<text transform="translate(505.7 401.5) scale(0.92 1)" class="an2" text-anchor="start">Best linear fit</text>
<path d="M502.6 396.4C498 396 494 395.5 491.5 394.5C488 392 486 389.5 484.1 386.6C482 383.5 480 381 478.5 378.8" stroke="#222" stroke-width="1.0" fill="none"/>
<path d="M482.9 381.1L478.2 378.3L479.2 383.7" stroke="#222" stroke-width="1.0" fill="none"/>
<text transform="translate(481.3 472.9) rotate(17.8) scale(0.935 1)" class="an" text-anchor="start">Rule of mixtures (at GF rupture)</text>
</svg>
</body></html>
